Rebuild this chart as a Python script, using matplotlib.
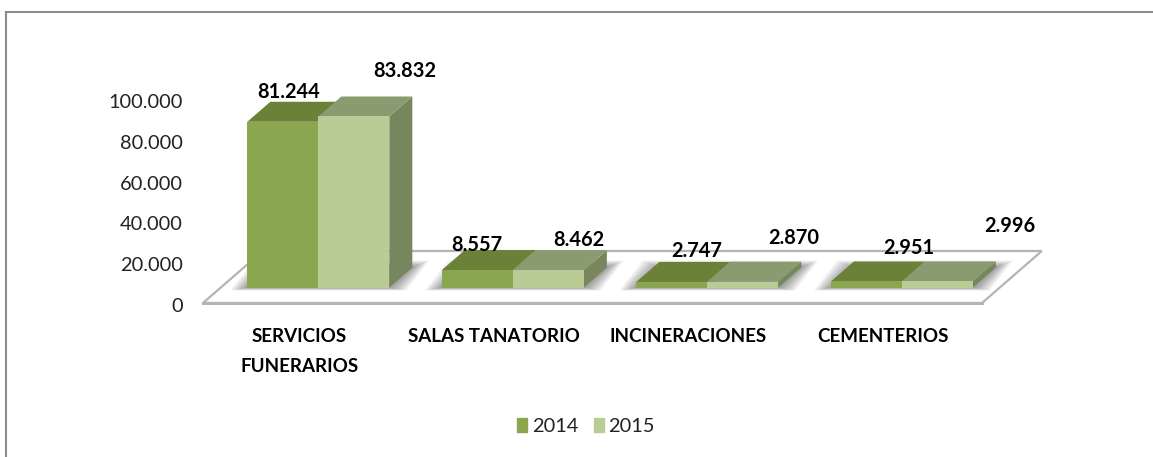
import numpy as np
import matplotlib
matplotlib.use('Agg')
import matplotlib.pyplot as plt
from matplotlib.lines import Line2D
from matplotlib.patches import Polygon, Patch
from matplotlib.transforms import Affine2D, IdentityTransform

plt.rcParams['font.family'] = ['Lato', 'DejaVu Sans']

categories = ['SERVICIOS\nFUNERARIOS', 'SALAS TANATORIO', 'INCINERACIONES', 'CEMENTERIOS']
years = ['2014', '2015']
v2014 = [81244, 8557, 2747, 2951]
v2015 = [83832, 8462, 2870, 2996]
yticks = [0, 20000, 40000, 60000, 80000, 100000]
ytick_labels = ['0', '20.000', '40.000', '60.000', '80.000', '100.000']

c_front = ['#8aa64e', '#b9cc95']
c_top = ['#6b8137', '#8b9b70']
c_side = '#76875d'

W, H = 1153, 457
fig = plt.figure(figsize=(W/100, H/100), dpi=100)
# axes box = front edge of the floor, y from 0 to 100.000
ax = fig.add_axes([203/W, 1-303/H, 779/W, 204/H])
ax.set_xlim(-0.593, 3.412)
ax.set_ylim(0, 100000)
ax.patch.set_alpha(0)
for s in ax.spines.values():
    s.set_visible(False)

bw = 0.365
base = 15.5   # bars stand this many px above the front of the floor
dx, dy = 23, 20  # depth of the bars


def pt(x, v, d=0.0, up=0.0, right=0.0):
    px = ax.transData.transform((x, v))
    return (px[0]+dx*d+right, px[1]+dy*d+up)


def poly(pts, color, z, **kw):
    ax.add_patch(Polygon(pts, closed=True, facecolor=color, edgecolor=kw.pop('ec', 'none'),
                         transform=IdentityTransform(), zorder=z, clip_on=False, **kw))


def bar3d(x0, v, i, z):
    x1 = x0+bw
    poly([pt(x1, 0, 0, base), pt(x1, v, 0, base), pt(x1, v, 1, base), pt(x1, 0, 1, base)], c_side, z)
    poly([pt(x0, v, 0, base), pt(x1, v, 0, base), pt(x1, v, 1, base), pt(x0, v, 1, base)], c_top[i], z)
    poly([pt(x0, 0, 0, base), pt(x1, 0, 0, base), pt(x1, v, 0, base), pt(x0, v, 0, base)], c_front[i], z+0.1)


# floor
xl, xr = ax.get_xlim()
poly([pt(xl, 0), pt(xr, 0), pt(xr, 0, 2.6), pt(xl, 0, 2.6)], 'white', 1, ec='#b4b4b4', lw=1.6)
ax.plot([xl, xr], [0, 0], color='#b4b4b4', lw=2.2, zorder=1.1, clip_on=False)

# soft shadow under each group, stacked see-through parallelograms
n_sh = 10
for g in range(len(categories)):
    for k in range(n_sh):
        grow = 1-k/n_sh
        sx, up, down = 17*grow, 7*grow, 3*grow
        poly([pt(g-bw, 0, 0, base-down, -sx), pt(g+bw, 0, 0, base-down, sx),
              pt(g+bw, 0, 1, base+up, sx), pt(g-bw, 0, 1, base+up, -sx)],
             'black', 2, alpha=0.045)

# bars, back to front and left to right
for g in range(len(categories)):
    bar3d(g-bw, v2014[g], 0, 3+g)
    bar3d(g, v2015[g], 1, 3.5+g)

# value labels, pushed off the bars by hand like in the original
off14 = [(6, 30), (-1, 25), (25, 31), (42, 33)]
off15 = [(51, 45), (30, 30), (51, 44), (72, 55)]
for g in range(len(categories)):
    for vals, x, off in ((v2014, g-bw/2, off14[g]), (v2015, g+bw/2, off15[g])):
        ax.annotate(f'{vals[g]:,}'.replace(',', '.'), xy=(x, vals[g]),
                    xytext=(off[0], off[1]+base), textcoords='offset pixels',
                    ha='center', va='center', fontsize=14.4, fontweight='bold', color='black',
                    zorder=20, annotation_clip=False)

ax.set_yticks(yticks)
ax.set_yticklabels(ytick_labels, fontsize=14.4, color='#222222')
ax.tick_params(axis='y', length=0, pad=14.5)
for lab in ax.get_yticklabels():
    lab.set_transform(lab.get_transform()+Affine2D().translate(0, -2))

ax.set_xticks(range(len(categories)))
ax.set_xticklabels(categories, fontsize=13.5, fontweight='bold', color='black', va='top', linespacing=1.9)
ax.tick_params(axis='x', length=0, pad=18)
for lab in ax.get_xticklabels():
    lab.set_transform(lab.get_transform()+Affine2D().translate(-19, 0))

handles = [Patch(color=c_front[0]), Patch(color=c_front[1])]
fig.legend(handles, years, ncol=2, loc='center', bbox_to_anchor=(586/W, 1-426/H), frameon=False,
           fontsize=14.4, handlelength=0.5, handleheight=0.7, handletextpad=0.25, columnspacing=0.75,
           labelcolor='#222222')

# outer frame, only top and left are on the picture
fig.add_artist(Line2D([6/W, 1], [1-11.5/H, 1-11.5/H], color='#8c8c8c', lw=1.5, transform=fig.transFigure))
fig.add_artist(Line2D([6/W, 6/W], [0, 1-11.5/H], color='#8c8c8c', lw=1.5, transform=fig.transFigure))

fig.savefig('out.png', dpi=100)
